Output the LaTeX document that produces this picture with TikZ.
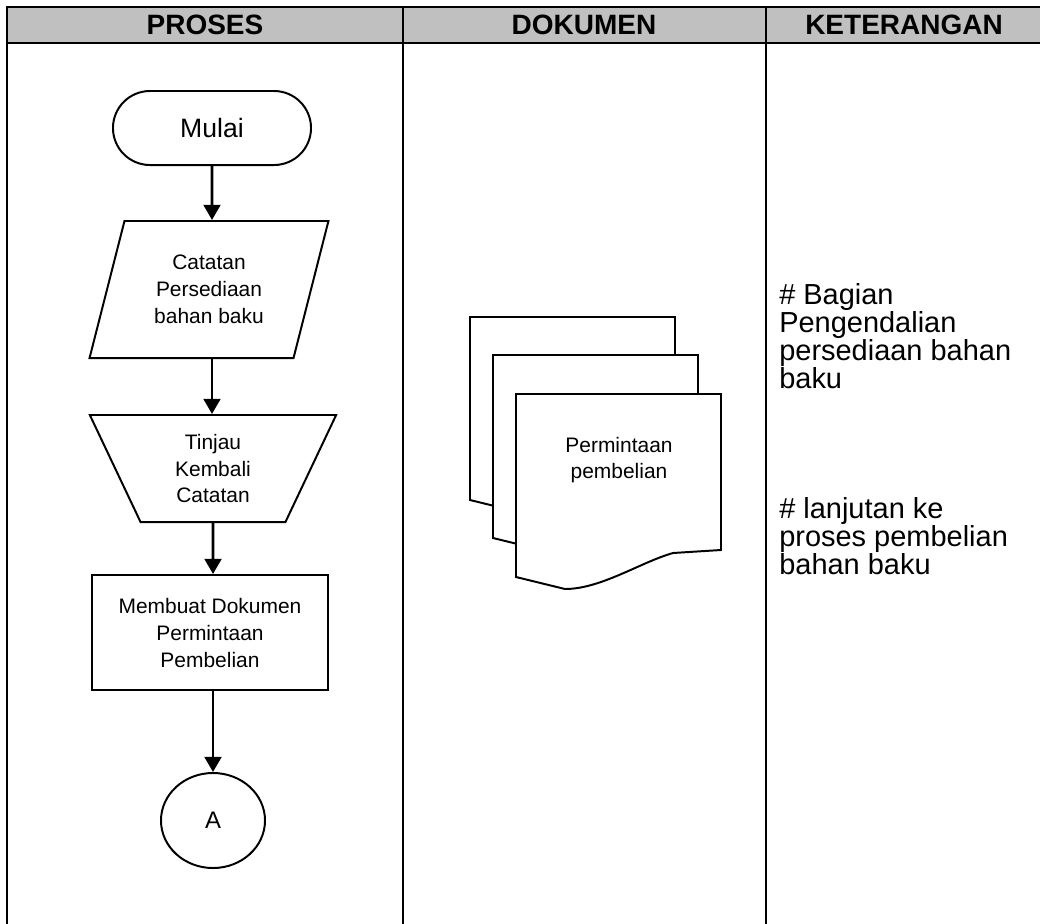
\documentclass[tikz,border=0pt]{standalone}
\usepackage{fontspec}
\setmainfont{Liberation Sans}
\usepackage{tikz}
\usetikzlibrary{shapes,arrows.meta}
\definecolor{headgray}{RGB}{192,192,192}

\begin{document}
\begin{tikzpicture}[x = 0.025cm, y = -0.025cm,
	garis/.style = {line width = 2.1pt},
	simbol/.style = {draw, line width = 1.4pt, inner sep = 0pt, align = center, font = \fontsize{14.9}{19.2}\selectfont},
	alur/.style = {-{Triangle[width = 0.42cm, length = 0.38cm]}, line width = 2pt},
	judul/.style = {inner sep = 0pt, font = \bfseries\fontsize{19.9}{24}\selectfont},
	keterangan/.style = {anchor = west, align = left, inner sep = 0pt, font = \fontsize{20.6}{19.9}\selectfont}]
	\useasboundingbox (0,0) rectangle (1040,923);
	
	\fill[headgray] (7,7) rectangle (1042,43);
	\draw[garis] (7,930) -- (7,7) -- (1042,7) -- (1042,930);
	\draw[garis] (7,43) -- (1042,43);
	\draw[garis] (403,7) -- (403,930);
	\draw[garis] (766,7) -- (766,930);
	
	\node(hproses) at (205,25) [judul] {PROSES};
	\node(hdokumen) at (584,25) [judul] {DOKUMEN};
	\node(hketerangan) at (904,25) [judul] {KETERANGAN};
	
	\node(mulai) at (212,128) [simbol, shape = rounded rectangle, minimum width = 4.95cm, minimum height = 1.85cm, font = \fontsize{18.9}{22}\selectfont] {Mulai};
	\node(catatan) at (209,289.5) [simbol, shape = trapezium, trapezium left angle = 71.8, trapezium right angle = 108.2, trapezium stretches, minimum width = 5.975cm, minimum height = 3.425cm] {Catatan\\Persediaan\\bahan baku};
	\node(tinjau) at (213,468.5) [simbol, shape = trapezium, trapezium left angle = 110.9, trapezium right angle = 110.9, trapezium stretches, minimum width = 6.175cm, minimum height = 2.675cm] {Tinjau\\Kembali\\Catatan};
	\node(membuat) at (210,632.5) [simbol, minimum width = 5.9cm, minimum height = 2.875cm] {Membuat Dokumen\\Permintaan\\Pembelian};
	\node(A) at (213,820.5) [simbol, shape = ellipse, minimum width = 2.6cm, minimum height = 2.375cm, font = \fontsize{17}{20}\selectfont] {A};
	
	\path [alur]
	(mulai) edge (mulai |- catatan.north)
	(catatan.south -| mulai) edge (mulai |- tinjau.north)
	(tinjau) edge (membuat.north -| tinjau)
	(membuat.south -| tinjau) edge (A);
	
	% dokumen rangkap tiga
	\foreach \dx/\dy in {0/0, 23/38, 46/77}
		\draw[line width = 1.4pt, fill = white, shift = {(470+\dx,317+\dy)}]
		(0,0) -- (205,0) -- (205,156) -- (157,159) .. controls (125,168) and (85,195) .. (49,195) -- (0,183) -- cycle;
	\node(permintaan) at (619,460) [align = center, font = \fontsize{14.9}{18.5}\selectfont] {Permintaan\\pembelian};
	
	\node(ket1) at (779,336) [keterangan] {\# Bagian\\Pengendalian\\persediaan bahan\\baku};
	\node(ket2) at (779,536) [keterangan] {\# lanjutan ke\\proses pembelian\\bahan baku};
\end{tikzpicture}
\end{document}
